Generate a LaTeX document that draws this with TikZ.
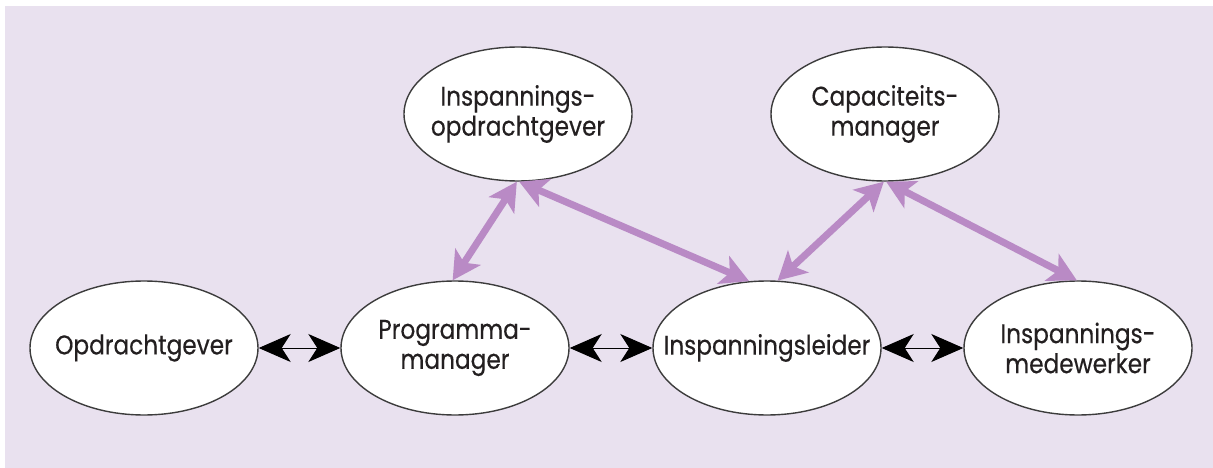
\documentclass[tikz,border=0pt]{standalone}
\usepackage{fontspec}
\setmainfont[FakeStretch=0.86,FakeBold=0.4]{Poppins}
\usetikzlibrary{arrows.meta,shapes.geometric}
\definecolor{panel}{RGB}{233,225,239}
\definecolor{lilac}{RGB}{185,138,197}
\definecolor{ink}{RGB}{35,31,32}
\definecolor{rim}{RGB}{60,60,60}
\tikzset{
  role/.style={ellipse, draw=rim, line width=1.4pt, fill=white,
    minimum width=228pt, minimum height=134pt, inner sep=0pt,
    label={[text=ink, align=center, font=\fontsize{27}{30}\selectfont]center:#1}},
  link/.style={line width=1pt, black,
    {Stealth[length=32pt,width=28pt,inset=9pt]}-{Stealth[length=32pt,width=28pt,inset=9pt]}},
  duty/.style={line width=7pt, lilac,
    {Stealth[length=28pt,width=30pt,inset=7pt]}-{Stealth[length=28pt,width=30pt,inset=7pt]}}
}
\begin{document}
\begin{tikzpicture}[x=1pt,y=-1pt]
\useasboundingbox (0,0) rectangle (1213,468);
\fill[panel] (5,6) rectangle (1213,468);

\node[role={Opdrachtgever}] (og) at (144,348) {};
\node[role={Programma-\\manager}] (pm) at (455,348) {};
\node[role={Inspanningsleider}] (il) at (767,348) {};
\node[role={Inspannings-\\medewerker}] (im) at (1078,348) {};
\node[role={Inspannings-\\opdrachtgever}] (io) at (518,114) {};
\node[role={Capaciteits-\\manager}] (cm) at (885,114) {};

\draw[link] (og.east) -- (pm.west);
\draw[link] (pm.east) -- (il.west);
\draw[link] (il.east) -- (im.west);

\draw[duty] (pm.92) -- (io.269);
\draw[duty] (io.271) -- (il.105);
\draw[duty] (il.81) -- (cm.269);
\draw[duty] (cm.271) -- (im.91);
\end{tikzpicture}
\end{document}
